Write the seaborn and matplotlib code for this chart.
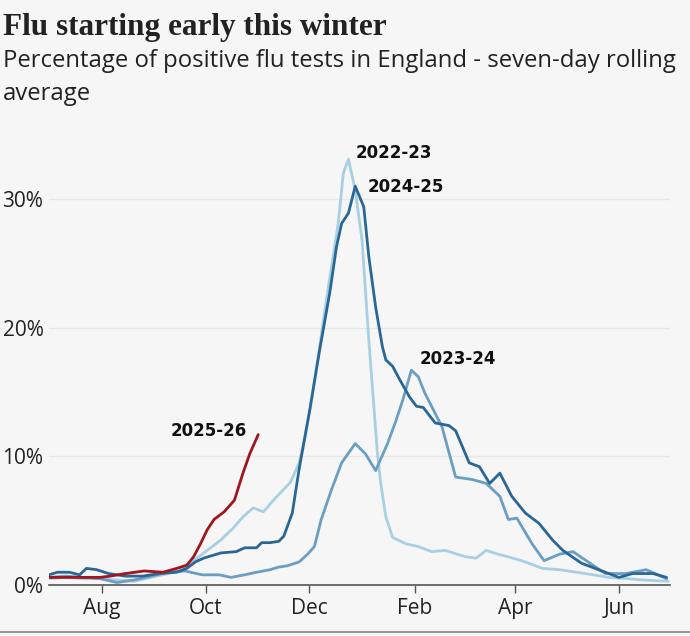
import pandas as pd
import matplotlib.pyplot as plt
import seaborn as sns

# day of season (0 = 1 July) and % of positive flu tests, 7-day rolling avg
days_2223 = [0, 10, 20, 30, 40, 50, 60, 70, 78, 83, 90, 101, 108, 114, 120, 126, 134, 142, 147, 150,
             154, 159, 164, 170, 173, 176, 180, 184, 188, 193, 195, 198, 202, 210, 217, 225, 233, 240,
             245, 251, 257, 264, 270, 280, 290, 300, 310, 320, 329, 340, 349, 364]
pct_2223 = [0.5, 0.6, 0.5, 0.5, 0.4, 0.3, 0.6, 0.9, 1.2, 1.7, 2.4, 3.5, 4.4, 5.3, 6.0, 5.7, 6.9, 8.0, 9.5, 11.3,
            14.1, 18.5, 23.0, 28.1, 32.0, 33.1, 30.7, 26.8, 19.0, 10.3, 7.9, 5.3, 3.7, 3.2, 3.0, 2.6, 2.7, 2.4,
            2.2, 2.1, 2.7, 2.4, 2.2, 1.8, 1.3, 1.2, 1.0, 0.8, 0.6, 0.5, 0.4, 0.3]

days_2324 = [0, 10, 20, 30, 40, 50, 60, 70, 80, 90, 100, 107, 115, 122, 130, 135, 140, 147, 152, 156,
             160, 166, 172, 180, 186, 192, 199, 204, 208, 213, 217, 221, 231, 239, 249, 257, 265, 270,
             275, 284, 291, 300, 308, 318, 327, 339, 351, 363]
pct_2324 = [0.6, 0.7, 0.6, 0.5, 0.2, 0.4, 0.7, 1.0, 1.1, 0.8, 0.8, 0.6, 0.8, 1.0, 1.2, 1.4, 1.5, 1.8, 2.4, 3.0,
            5.1, 7.4, 9.5, 11.0, 10.2, 8.9, 11.0, 12.8, 14.4, 16.7, 16.2, 14.9, 12.3, 8.4, 8.2, 7.9, 6.9, 5.1,
            5.2, 3.2, 1.9, 2.4, 2.6, 1.7, 0.9, 0.9, 1.2, 0.5]

days_2425 = [0, 5, 12, 18, 22, 28, 35, 45, 55, 65, 75, 81, 86, 91, 101, 110, 115, 122, 125, 130, 135,
             138, 143, 147, 153, 159, 165, 169, 172, 176, 180, 185, 188, 192, 196, 198, 202, 206, 212,
             216, 220, 227, 235, 239, 247, 253, 259, 265, 272, 280, 288, 296, 302, 313, 323, 335, 343,
             355, 363]
pct_2425 = [0.8, 1.0, 1.0, 0.8, 1.3, 1.2, 0.9, 0.7, 0.7, 0.9, 1.0, 1.3, 1.8, 2.1, 2.5, 2.6, 2.9, 2.9, 3.3, 3.3, 3.4,
            3.8, 5.6, 9.0, 13.4, 18.2, 22.7, 26.3, 28.1, 28.9, 31.0, 29.4, 25.5, 21.6, 18.5, 17.5, 17.0, 16.0, 14.6,
            13.9, 13.8, 12.6, 12.4, 12.0, 9.5, 9.2, 7.9, 8.7, 6.9, 5.6, 4.8, 3.5, 2.7, 1.7, 1.2, 0.6, 0.9,
            0.9, 0.6]

days_2526 = [0, 10, 20, 30, 36, 45, 56, 67, 75, 81, 85, 89, 93, 97, 103, 109, 114, 118, 123]
pct_2526 = [0.6, 0.6, 0.6, 0.6, 0.7, 0.9, 1.1, 1.0, 1.3, 1.55, 2.2, 3.2, 4.3, 5.1, 5.7, 6.6, 8.7, 10.2, 11.7]

seasons = ["2022-23", "2023-24", "2024-25", "2025-26"]
colours = ["#a9cfe2", "#6a9ec2", "#2a6796", "#a3141f"]

month_ticks = [31, 92, 153, 215, 274, 335]
month_labels = ["Aug", "Oct", "Dec", "Feb", "Apr", "Jun"]
pct_ticks = [0, 10, 20, 30]

# where each season's label sits (day, %), and alignment
label_pos = {"2022-23": (180.5, 33.6, "left"), "2024-25": (187, 30.9, "left"),
             "2023-24": (218, 17.6, "left"), "2025-26": (116.5, 12.0, "right")}

df = pd.concat([
    pd.DataFrame({"day": days_2223, "pct": pct_2223, "season": "2022-23"}),
    pd.DataFrame({"day": days_2324, "pct": pct_2324, "season": "2023-24"}),
    pd.DataFrame({"day": days_2425, "pct": pct_2425, "season": "2024-25"}),
    pd.DataFrame({"day": days_2526, "pct": pct_2526, "season": "2025-26"}),
])

bg = "#f6f6f6"
sns.set_theme(style="white")
plt.rcParams["font.family"] = ["Open Sans", "DejaVu Sans"]

fig = plt.figure(figsize=(6.9, 6.36), dpi=100, facecolor=bg)
ax = fig.add_axes([0.071, 0.080, 0.900, 0.688], facecolor=bg)

for y in pct_ticks[1:]:
    ax.axhline(y, color="#e8e8e8", lw=1, zorder=0)

sns.lineplot(data=df, x="day", y="pct", hue="season", hue_order=seasons,
             palette=dict(zip(seasons, colours)), linewidth=2.0, legend=False, ax=ax,
             estimator=None, sort=False)

for s in seasons:
    x, y, ha = label_pos[s]
    ax.text(x, y, s, ha=ha, va="center", fontsize=12, fontweight="bold",
            color="#111111", family="DejaVu Sans")

ax.set_xlim(0, 365)
ax.set_ylim(0, 34)
ax.set_xticks(month_ticks)
ax.set_xticklabels(month_labels)
ax.set_yticks(pct_ticks)
ax.set_yticklabels([f"{v}%" for v in pct_ticks])
ax.set_xlabel("")
ax.set_ylabel("")
ax.tick_params(axis="x", length=6, width=1, color="#555555", pad=3, labelsize=15, labelcolor="#222222",
               bottom=True)
ax.tick_params(axis="y", length=0, pad=4, labelsize=15, labelcolor="#222222")
for side in ["top", "right", "left"]:
    ax.spines[side].set_visible(False)
ax.spines["bottom"].set_color("#555555")
ax.spines["bottom"].set_linewidth(1.2)

fig.text(0.004, 0.945, "Flu starting early this winter", ha="left", va="baseline",
         fontsize=22.5, fontweight="bold", family="Liberation Serif", color="#222222")
fig.text(0.004, 0.8947, "Percentage of positive flu tests in England - seven-day rolling",
         ha="left", va="baseline", fontsize=17.2, color="#222222")
fig.text(0.004, 0.843, "average", ha="left", va="baseline", fontsize=17.2, color="#222222")

fig.add_artist(plt.Line2D([0, 1], [0.006, 0.006], color="#999999", lw=1.5))

fig.savefig("out.png", dpi=100, facecolor=bg)
